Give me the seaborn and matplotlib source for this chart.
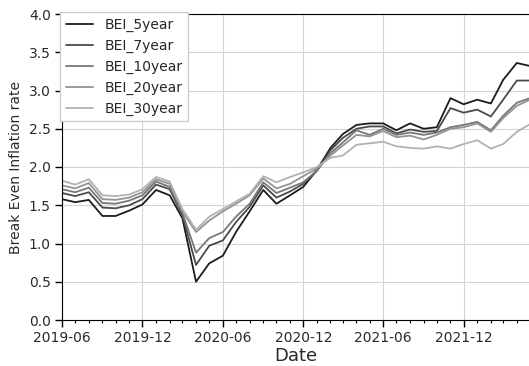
import pandas as pd
import matplotlib
matplotlib.use("Agg")
import matplotlib.pyplot as plt
import matplotlib.dates as mdates
from matplotlib.ticker import MultipleLocator
import seaborn as sns

# Monthly break-even inflation rates, 2019-06 .. 2022-05
dates = pd.date_range("2019-06-01", periods=36, freq="MS")

bei_5year = [1.58, 1.54, 1.57, 1.36, 1.36, 1.43, 1.51, 1.70, 1.63, 1.33,
             0.50, 0.74, 0.84, 1.15, 1.42, 1.70, 1.52, 1.63, 1.74, 1.96,
             2.25, 2.43, 2.55, 2.57, 2.57, 2.48, 2.57, 2.50, 2.52, 2.90,
             2.82, 2.88, 2.83, 3.14, 3.36, 3.32]
bei_7year = [1.66, 1.62, 1.67, 1.47, 1.46, 1.50, 1.58, 1.77, 1.71, 1.37,
             0.72, 0.97, 1.04, 1.28, 1.48, 1.76, 1.60, 1.68, 1.78, 1.95,
             2.22, 2.38, 2.50, 2.53, 2.53, 2.44, 2.49, 2.46, 2.47, 2.77,
             2.71, 2.75, 2.66, 2.88, 3.13, 3.13]
bei_10year = [1.71, 1.67, 1.73, 1.53, 1.52, 1.56, 1.63, 1.81, 1.74, 1.40,
              0.88, 1.07, 1.15, 1.35, 1.52, 1.80, 1.66, 1.73, 1.80, 1.95,
              2.18, 2.32, 2.48, 2.42, 2.50, 2.42, 2.45, 2.42, 2.45, 2.52,
              2.55, 2.59, 2.48, 2.67, 2.84, 2.90]
bei_20year = [1.76, 1.72, 1.79, 1.58, 1.57, 1.60, 1.67, 1.84, 1.78, 1.42,
              1.15, 1.30, 1.42, 1.52, 1.63, 1.85, 1.72, 1.78, 1.88, 1.98,
              2.15, 2.28, 2.42, 2.40, 2.47, 2.39, 2.41, 2.36, 2.42, 2.50,
              2.52, 2.57, 2.46, 2.64, 2.80, 2.88]
bei_30year = [1.82, 1.77, 1.84, 1.63, 1.62, 1.64, 1.71, 1.87, 1.81, 1.45,
              1.18, 1.35, 1.45, 1.55, 1.65, 1.88, 1.80, 1.87, 1.93, 2.00,
              2.12, 2.15, 2.29, 2.31, 2.33, 2.27, 2.25, 2.24, 2.27, 2.24,
              2.30, 2.35, 2.24, 2.30, 2.46, 2.56]

series_names = ["BEI_5year", "BEI_7year", "BEI_10year", "BEI_20year", "BEI_30year"]
line_colors = ["#1c1c1c", "#4a4a4a", "#777777", "#939393", "#b2b2b2"]

wide = pd.DataFrame({
    "Date": dates,
    "BEI_5year": bei_5year,
    "BEI_7year": bei_7year,
    "BEI_10year": bei_10year,
    "BEI_20year": bei_20year,
    "BEI_30year": bei_30year,
})
long = wide.melt(id_vars="Date", var_name="series",
                 value_name="Break Even Inflation rate")

sns.set_style("whitegrid", rc={
    "axes.edgecolor": "black",
    "axes.linewidth": 1.0,
    "grid.color": "#d4d4d4",
    "grid.linewidth": 1.2,
})
plt.rcParams["font.family"] = ["DejaVu Sans"]

fig = plt.figure(figsize=(5.29, 3.66), dpi=100)
ax = fig.add_axes([62 / 529, 46 / 366, 468 / 529, 306 / 366])

sns.lineplot(data=long, x="Date", y="Break Even Inflation rate",
             hue="series", hue_order=series_names, palette=line_colors,
             linewidth=1.3, ax=ax)

ax.set_xlim(dates[0], dates[-1])
ax.set_ylim(0, 4)
ax.yaxis.set_major_locator(MultipleLocator(0.5))
ax.xaxis.set_major_locator(mdates.MonthLocator(bymonth=[6, 12]))
ax.xaxis.set_minor_locator(mdates.MonthLocator())
ax.xaxis.set_major_formatter(mdates.DateFormatter("%Y-%m"))

ax.tick_params(axis="both", which="major", direction="out", length=5,
               width=1, color="black", labelsize=10, labelcolor="#2a2a2a",
               bottom=True, left=True, pad=3)
ax.tick_params(axis="x", which="minor", direction="out", length=2.5,
               width=0.8, color="black", bottom=True)
ax.grid(True, which="major")
ax.grid(False, which="minor")

ax.set_xlabel("Date", fontsize=13, color="#2a2a2a", labelpad=1.5)
ax.set_ylabel("Break Even Inflation rate", fontsize=10, color="#2a2a2a")

ax.legend(loc="upper left", bbox_to_anchor=(-0.004, 1.007), borderaxespad=0,
          fancybox=False, framealpha=1, edgecolor="#cccccc", fontsize=10,
          title=None)

fig.savefig("out.png", dpi=100)
